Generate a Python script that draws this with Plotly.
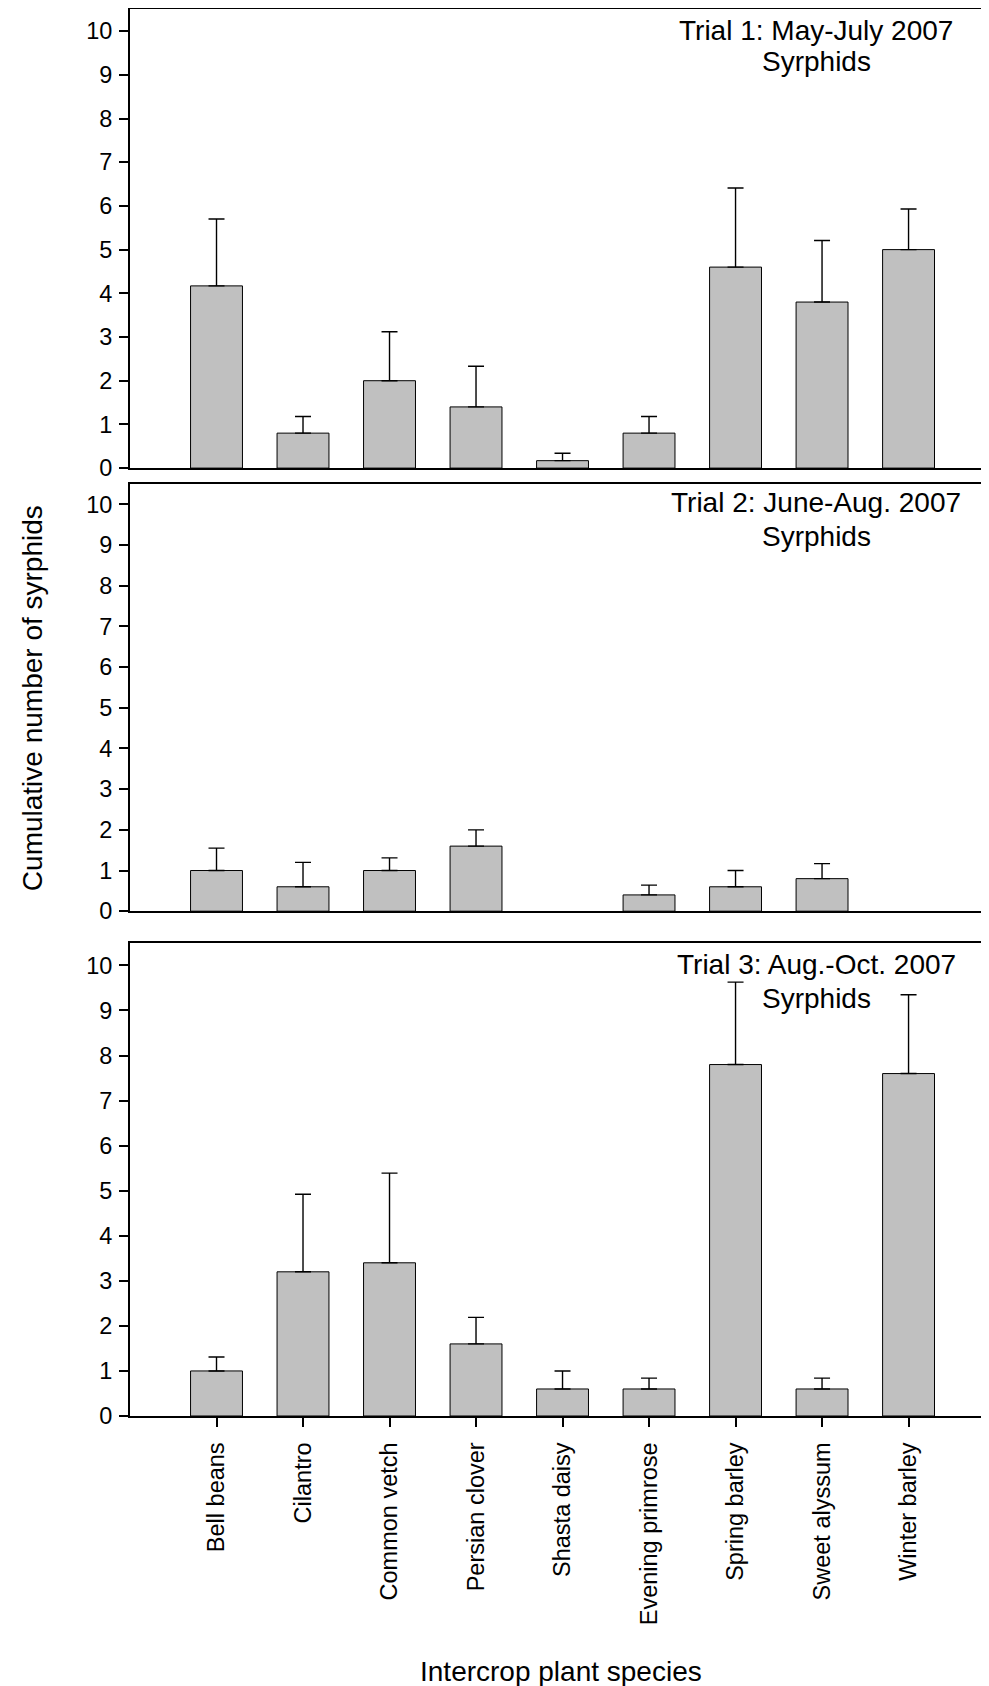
import plotly.graph_objects as go

species = ["Bell beans", "Cilantro", "Common vetch", "Persian clover", "Shasta daisy",
           "Evening primrose", "Spring barley", "Sweet alyssum", "Winter barley"]

trial1_mean = [4.17, 0.8, 2.0, 1.4, 0.17, 0.8, 4.6, 3.8, 5.0]
trial1_se = [1.53, 0.38, 1.12, 0.93, 0.17, 0.38, 1.81, 1.41, 0.93]

trial2_mean = [1.0, 0.6, 1.0, 1.6, None, 0.4, 0.6, 0.8, None]
trial2_se = [0.55, 0.6, 0.31, 0.4, None, 0.24, 0.4, 0.37, None]

trial3_mean = [1.0, 3.2, 3.4, 1.6, 0.6, 0.6, 7.8, 0.6, 7.6]
trial3_se = [0.31, 1.72, 1.99, 0.59, 0.4, 0.24, 1.83, 0.24, 1.75]

panel_titles = ["Trial 1: May-July 2007", "Trial 2: June-Aug. 2007", "Trial 3: Aug.-Oct. 2007"]
panel_sub = "Syrphids"
y_ticks = list(range(0, 11))

FONT = "Liberation Sans, Arial, Helvetica, sans-serif"
OFF = 8  # browser default body margin
W, H = 989 - OFF, 1686 - OFF
ML, MR, MT = 130 - OFF, 0, 0
MB = H - (1415.7 - OFF)
PH = H - MT - MB

def py(pix):
    # pix: pixel y in reference (window) coordinates
    return (H - MB - (pix - OFF)) / PH

def px(pix):
    return (pix - OFF - ML) / (W - ML - MR)

# panel pixel extents (top, bottom) in reference coordinates
panels_px = [(9.3, 468.0), (484.0, 911.0), (942.7, 1415.7)]

fig = go.Figure()
data = [(trial1_mean, trial1_se), (trial2_mean, trial2_se), (trial3_mean, trial3_se)]
for i, (m, s) in enumerate(data):
    xa = "x" if i == 0 else f"x{i+1}"
    ya = "y" if i == 0 else f"y{i+1}"
    fig.add_trace(go.Bar(
        x=species, y=m, width=0.6,
        marker=dict(color="#c0c0c0", line=dict(color="black", width=1)),
        error_y=dict(type="data", symmetric=False, array=s,
                     arrayminus=[0 if v is not None else None for v in s],
                     color="black", thickness=1.4, width=8),
        xaxis=xa, yaxis=ya, showlegend=False))

layout = dict(width=W, height=H, margin=dict(l=ML, r=MR, t=MT, b=MB),
              plot_bgcolor="white", paper_bgcolor="white",
              font=dict(family=FONT, color="black"), bargap=0.4)

for i, (top, bot) in enumerate(panels_px):
    xk = "xaxis" if i == 0 else f"xaxis{i+1}"
    yk = "yaxis" if i == 0 else f"yaxis{i+1}"
    yname = "y" if i == 0 else f"y{i+1}"
    xname = "x" if i == 0 else f"x{i+1}"
    last = (i == 2)
    layout[xk] = dict(domain=[0, 1], anchor=yname, type="category",
                      categoryorder="array", categoryarray=species,
                      range=[-1.0, 8.93], showline=True, linecolor="black", linewidth=2,
                      mirror=True, showgrid=False, zeroline=False,
                      ticks="outside" if last else "", ticklen=9, tickwidth=1.5, tickcolor="black",
                      showticklabels=last, tickangle=-90,
                      tickfont=dict(size=23.5, family=FONT), ticklabelstandoff=6)
    if i > 0:
        layout[xk]["matches"] = "x"
    layout[yk] = dict(domain=[py(bot), min(1.0, py(top))], anchor=xname, range=[0, 10.5],
                      tickvals=y_ticks, ticktext=[str(t) for t in y_ticks],
                      showline=True, linecolor="black", linewidth=2, mirror=False,
                      ticks="outside", ticklen=9, tickwidth=1.5, tickcolor="black",
                      showgrid=False, zeroline=False,
                      tickfont=dict(size=23.5, family=FONT), ticklabelstandoff=2)

fig.update_layout(**layout)

ann = []
title_offsets = [(21.0, 52.0), (18.5, 52.0), (22.0, 56.0)]
for i, (top, bot) in enumerate(panels_px):
    o1, o2 = title_offsets[i]
    ann.append(dict(text=panel_titles[i], xref="paper", yref="paper",
                    x=px(816), y=py(top + o1), xanchor="center", yanchor="middle",
                    showarrow=False, font=dict(size=28, family=FONT)))
    ann.append(dict(text=panel_sub, xref="paper", yref="paper",
                    x=px(816), y=py(top + o2), xanchor="center", yanchor="middle",
                    showarrow=False, font=dict(size=28, family=FONT)))

ann.append(dict(text="Cumulative number of syrphids", xref="paper", yref="paper",
                x=px(32), y=py(698), xanchor="center", yanchor="middle",
                textangle=-90, showarrow=False, font=dict(size=28, family=FONT)))
ann.append(dict(text="Intercrop plant species", xref="paper", yref="paper",
                x=px(561), y=py(1671), xanchor="center", yanchor="middle",
                showarrow=False, font=dict(size=28, family=FONT)))
fig.update_layout(annotations=ann)

fig.write_html("out.html")
